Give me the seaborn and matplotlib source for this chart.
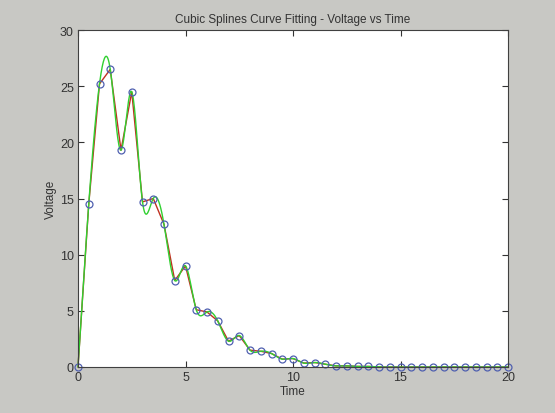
import numpy as np
import pandas as pd
import matplotlib
matplotlib.use("Agg")
import matplotlib.pyplot as plt
import seaborn as sns

time = np.arange(0, 20.5, 0.5)
voltage = [0.0, 14.5, 25.2, 26.5, 19.3, 24.5, 14.7, 15.0, 12.7, 7.7,
           9.0, 5.1, 4.9, 4.1, 2.3, 2.8, 1.5, 1.4, 1.2, 0.7,
           0.75, 0.35, 0.4, 0.25, 0.1, 0.1, 0.05, 0.05, 0.0, 0.0,
           0.0, 0.0, 0.0, 0.0, 0.0, 0.0, 0.0, 0.0, 0.0, 0.0, 0.0]


def spline_fit(x, y, xx):
    # cubic spline with not-a-knot ends (like matlab spline)
    x = np.asarray(x, float)
    y = np.asarray(y, float)
    n = len(x)
    h = np.diff(x)
    A = np.zeros((n, n))
    b = np.zeros(n)
    for i in range(1, n - 1):
        A[i, i - 1] = h[i - 1]
        A[i, i] = 2 * (h[i - 1] + h[i])
        A[i, i + 1] = h[i]
        b[i] = 3 * ((y[i + 1] - y[i]) / h[i] - (y[i] - y[i - 1]) / h[i - 1])
    A[0, 0], A[0, 1], A[0, 2] = h[1], -(h[0] + h[1]), h[0]
    A[-1, -3], A[-1, -2], A[-1, -1] = h[-1], -(h[-2] + h[-1]), h[-2]
    c = np.linalg.solve(A, b)
    bb = (y[1:] - y[:-1]) / h - h * (2 * c[:-1] + c[1:]) / 3
    d = (c[1:] - c[:-1]) / (3 * h)
    idx = np.clip(np.searchsorted(x, xx) - 1, 0, n - 2)
    dx = xx - x[idx]
    return y[idx] + bb[idx] * dx + c[idx] * dx ** 2 + d[idx] * dx ** 3


df = pd.DataFrame({"Time": time, "Voltage": voltage})
tt = np.linspace(0, 20, 801)
fit = pd.DataFrame({"Time": tt, "Voltage": spline_fit(time, voltage, tt)})

sns.set_style("ticks")
plt.rcParams["font.family"] = ["Liberation Sans", "DejaVu Sans"]

fig = plt.figure(figsize=(5.55, 4.14), dpi=100, facecolor="#c8c8c4")
ax = fig.add_axes([78 / 555, 46 / 414, 430 / 555, 337 / 414])
ax.set_facecolor("white")

sns.lineplot(data=df, x="Time", y="Voltage", color="#c03020", lw=1.0, ax=ax)
sns.lineplot(data=fit, x="Time", y="Voltage", color="#30d030", lw=1.0, ax=ax)
ax.plot(df["Time"], df["Voltage"], "o", mfc="none", mec="#5060b0", ms=5, mew=0.9)

ax.set_xlim(0, 20)
ax.set_ylim(0, 30)
ax.set_xticks([0, 5, 10, 15, 20])
ax.set_yticks([0, 5, 10, 15, 20, 25, 30])
ax.tick_params(direction="in", top=True, right=True, length=4, labelsize=9,
               colors="#333333", pad=3)
for s in ax.spines.values():
    s.set_visible(True)
    s.set_color("#404040")
    s.set_linewidth(0.8)
ax.set_clip_on(False)
for line in ax.lines:
    line.set_clip_on(False)

ax.set_title("Cubic Splines Curve Fitting - Voltage vs Time", fontsize=8.5,
             color="#333333", pad=6)
ax.set_xlabel("Time", fontsize=8.5, color="#333333", labelpad=1)
ax.set_ylabel("Voltage", fontsize=8.5, color="#333333", labelpad=2)

fig.savefig("out.png", dpi=100, facecolor=fig.get_facecolor())
